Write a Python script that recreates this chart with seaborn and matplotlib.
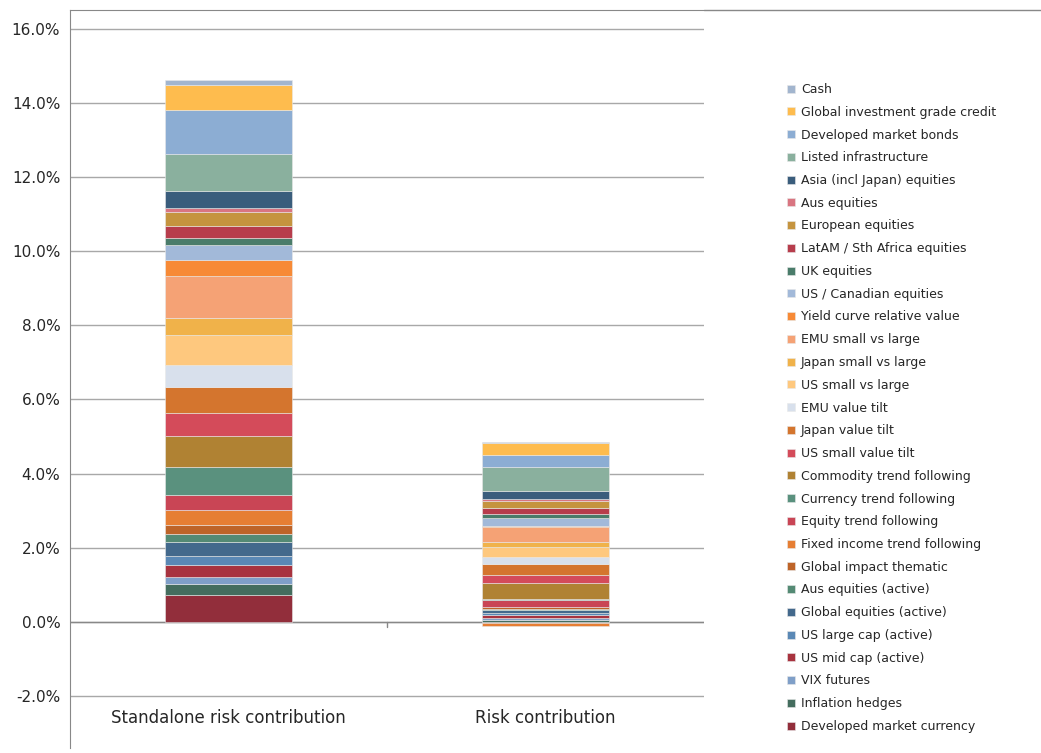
import numpy as np
import matplotlib.pyplot as plt
import seaborn as sns

categories = ['Standalone risk contribution', 'Risk contribution']

# bottom-to-top stacking order
series = ['Developed market currency', 'Inflation hedges', 'VIX futures', 'US mid cap (active)',
          'US large cap (active)', 'Global equities (active)', 'Aus equities (active)',
          'Global impact thematic', 'Fixed income trend following', 'Equity trend following',
          'Currency trend following', 'Commodity trend following', 'US small value tilt',
          'Japan value tilt', 'EMU value tilt', 'US small vs large', 'Japan small vs large',
          'EMU small vs large', 'Yield curve relative value', 'US / Canadian equities',
          'UK equities', 'LatAM / Sth Africa equities', 'European equities', 'Aus equities',
          'Asia (incl Japan) equities', 'Listed infrastructure', 'Developed market bonds',
          'Global investment grade credit', 'Cash']

standalone = [0.72, 0.31, 0.19, 0.32, 0.24, 0.38, 0.21, 0.24, 0.41, 0.40, 0.75, 0.84, 0.63,
              0.70, 0.60, 0.80, 0.46, 1.14, 0.41, 0.41, 0.18, 0.34, 0.37, 0.12, 0.46, 0.99,
              1.19, 0.68, 0.12]
contribution = [-0.04, 0.05, 0.05, 0.08, 0.06, 0.07, 0.05, 0.05, -0.08, 0.19, 0.02, 0.42, 0.23,
                0.29, 0.18, 0.28, 0.13, 0.42, 0.02, 0.22, 0.09, 0.18, 0.19, 0.05, 0.22, 0.63,
                0.32, 0.34, 0.02]

colors = ['#922E3B', '#446D5E', '#7F9FC8', '#A8333F', '#5A88B5', '#43698C', '#548A74',
          '#BE6428', '#E67E33', '#C94555', '#5A917E', '#B08233', '#D44B5A', '#D4752E',
          '#D8E0EC', '#FEC87E', '#F0B24A', '#F5A275', '#F78A36', '#A2B9D9', '#4A7C6A',
          '#B73D4C', '#C5943F', '#D97581', '#3A5D7C', '#8AB09E', '#8CADD3', '#FEBC4E',
          '#A2B5CE']

sns.set_style('white')
plt.rcParams['font.family'] = ['DejaVu Sans']

fig = plt.figure(figsize=(10.41, 7.53), dpi=100)
ax = fig.add_axes([70 / 1041, 5 / 753, 634 / 1041, 738 / 753])

vals = np.array([standalone, contribution]).T
x = np.arange(len(categories))
pos = np.zeros(2)
neg = np.zeros(2)
handles = []
for name, v, c in zip(series, vals, colors):
    bottoms = np.where(v >= 0, pos, neg)
    h = ax.bar(x, v, bottom=bottoms, width=0.4, color=c, edgecolor='#e8e8e8',
               linewidth=0.4, label=name, zorder=3)
    handles.append(h)
    pos = pos + np.where(v >= 0, v, 0)
    neg = neg + np.where(v < 0, v, 0)

ax.set_xlim(-0.5, 1.5)
ax.set_ylim(-3.4, 16.5)
ax.set_yticks(np.arange(-2, 17, 2))
ax.set_yticklabels([f'{t:.1f}%' for t in np.arange(-2, 17, 2)], fontsize=11)
ax.yaxis.grid(True, color='#a8a8a8', linewidth=1, zorder=0)
ax.set_xticks([])
for s in ['right', 'bottom']:
    ax.spines[s].set_visible(False)
ax.spines['left'].set_color('#888888')
ax.spines['top'].set_color('#888888')
ax.axhline(0, color='#888888', linewidth=1, zorder=2)
ax.plot([0.5, 0.5], [0, -0.15], color='#888888', linewidth=1, clip_on=False)
for xi, lab in zip(x, categories):
    ax.text(xi, -2.6, lab, ha='center', va='center', fontsize=12)

fig.add_artist(plt.Line2D([704 / 1041, 1], [1 - 10 / 753, 1 - 10 / 753],
                          color='#888888', linewidth=1))

leg = fig.legend(handles[::-1], series[::-1], loc='upper left',
                 bbox_to_anchor=(782 / 1041, 1 - 78 / 753), frameon=False,
                 fontsize=9, handlelength=0.6, handleheight=0.6,
                 labelspacing=0.78, handletextpad=0.5, borderaxespad=0)

fig.savefig('out.png', dpi=100)
